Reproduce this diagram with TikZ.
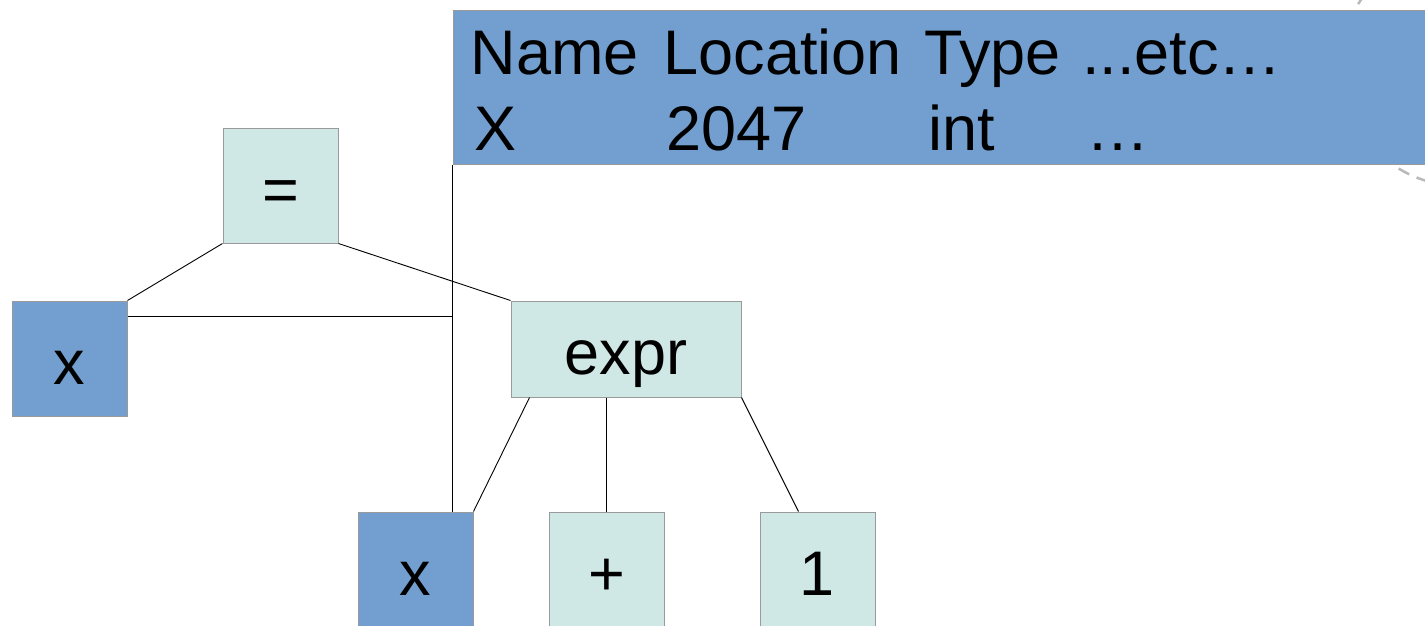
\documentclass[tikz,border=0pt]{standalone}
\usepackage{fontspec}
\setmainfont{Liberation Sans}
\usetikzlibrary{calc}
\definecolor{symblue}{HTML}{729FCF}
\definecolor{treeteal}{HTML}{CFE7E5}
\definecolor{boxedge}{HTML}{9A9A9A}
\begin{document}
\begin{tikzpicture}[x=1pt,y=-1pt,
  every node/.style={font=\fontsize{63}{75}\selectfont},
  treebox/.style={draw=boxedge,line width=1pt,inner sep=0pt,
    minimum width=115pt,minimum height=115pt,
    text height=57.5pt,text depth=6.5pt},
  symbox/.style={treebox,fill=symblue},
  opbox/.style={treebox,fill=treeteal},
  cell/.style={anchor=base west,inner sep=0pt},
  link/.style={draw=black,line width=0.9pt}]
\useasboundingbox (0,0) rectangle (1425,625);
\clip (0,0) rectangle (1425,625);

% dashed ring partly hidden behind the symbol table
\draw[gray!55,line width=2.5pt,dash pattern=on 12pt off 8pt]
  (1461,66) circle [radius=120pt];

% symbol table
\node[draw=boxedge,line width=1pt,fill=symblue,inner sep=0pt,
  minimum width=987pt,minimum height=154pt] (tbl) at (946.5,87) {};
\node[cell] (h1) at (470.5,74) {Name};
\node[cell] (h2) at (663.5,74) {Location};
\node[cell] (h3) at (924,74) {Type};
\node[cell] (h4) at (1082,74) {...etc…};
\node[cell] (r1) at (474.5,150.5) {X};
\node[cell] (r2) at (666,150.5) {2047};
\node[cell] (r3) at (928,150.5) {int};
\node[cell] (r4) at (1086,150.5) {…};

% syntax tree
\node[opbox] (eq) at (280.5,185.5) {=};
\node[symbox] (xl) at (69.5,358.5) {x};
\node[opbox,minimum width=230pt,minimum height=96pt] (expr) at (626,349) {expr};
\node[symbox] (xb) at (415.5,569.5) {x};
\node[opbox] (plus) at (606.5,569.5) {+};
\node[opbox] (one) at (817.5,569.5) {1};

\draw[link] (eq.south west) -- (xl.north east);
\draw[link] (eq.south east) -- (expr.north west);
\draw[link] ($(expr.south west)+(19,0)$) -- (xb.north east);
\draw[link] (plus.north |- expr.south) -- (plus.north);
\draw[link] (expr.south east) -- ($(one.north west)+(39,0)$);

% links from the symbol table to the uses of x
\coordinate (j) at ($(xl.north east)+(0,16)$);
\draw[link] (tbl.south west) -- (tbl.south west |- xb.north);
\draw[link] (j) -- (tbl.south west |- j);
\end{tikzpicture}
\end{document}
